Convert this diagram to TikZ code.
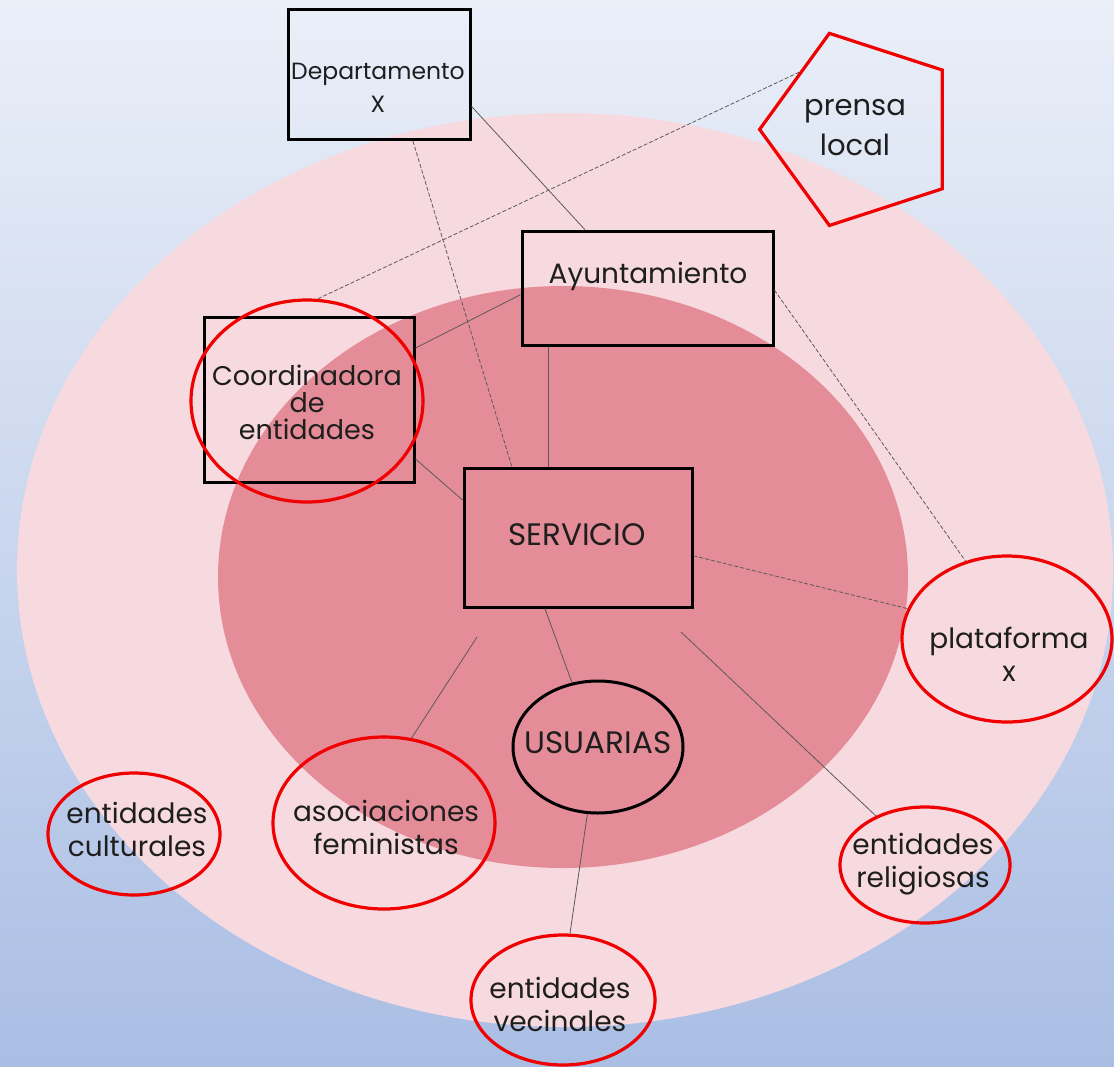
\documentclass[tikz,border=0pt]{standalone}
\usepackage{fontspec}
\setmainfont{Poppins}
\usetikzlibrary{shapes.geometric}
\definecolor{bgtop}{RGB}{234,239,248}
\definecolor{bgbot}{RGB}{170,190,228}
\definecolor{pinkout}{RGB}{247,218,223}
\definecolor{pinkin}{RGB}{228,140,152}
\definecolor{redline}{RGB}{240,0,0}
\definecolor{conn}{RGB}{90,90,90}
\definecolor{txt}{RGB}{30,30,30}
\begin{document}
\begin{tikzpicture}[x=1pt,y=-1pt,
 box/.style={draw=black,line width=3pt,rectangle,inner sep=0pt},
 redell/.style={draw=redline,line width=3.2pt,ellipse,inner sep=0pt},
 blkell/.style={draw=black,line width=3pt,ellipse,inner sep=0pt},
 lbl/.style={text=txt,align=center,inner sep=0pt,font=\fontsize{28}{33}\selectfont},
 link/.style={draw=conn,line width=0.8pt},
 dlink/.style={link,dash pattern=on 4pt off 2pt}]
\useasboundingbox (0,0) rectangle (1114,1066);
\shade[top color=bgtop,bottom color=bgbot] (0,0) rectangle (1114,1066);
\fill[pinkout] (565,570) ellipse [x radius=548, y radius=457];
\fill[pinkin] (563,577) ellipse [x radius=345, y radius=291];
% shapes
\node[box,minimum width=182pt,minimum height=130pt] (dep) at (379,74.5) {};
\node[draw=redline,line width=3.2pt,regular polygon,regular polygon sides=5,minimum size=202pt,inner sep=0pt,shape border rotate=90] (pren) at (860.6,129.4) {};
\node[box,minimum width=251pt,minimum height=114pt] (ayu) at (647.5,288) {};
\node[box,minimum width=210pt,minimum height=165pt] (coordB) at (309,400) {};
\node[redell,minimum width=232pt,minimum height=202pt] (coordE) at (307,401) {};
\node[box,minimum width=228pt,minimum height=139pt] (ser) at (578,537.5) {};
\node[redell,minimum width=210pt,minimum height=166pt] (plat) at (1007,639) {};
\node[blkell,minimum width=170pt,minimum height=132pt] (usu) at (598,747) {};
\node[redell,minimum width=222pt,minimum height=172pt] (aso) at (384,823) {};
\node[redell,minimum width=172pt,minimum height=122pt] (cul) at (134,834) {};
\node[redell,minimum width=170pt,minimum height=116pt] (rel) at (925,865) {};
\node[redell,minimum width=184pt,minimum height=130pt] (vec) at (563,1000) {};
% texts
\node[lbl,font=\fontsize{23.5}{33}\selectfont] (depT) at (378,88) {Departamento\\X};
\node[lbl,font=\fontsize{29}{40}\selectfont] (prenT) at (855,128) {prensa\\local};
\node[lbl] (ayuT) at (648,276) {Ayuntamiento};
\node[lbl,font=\fontsize{27}{27}\selectfont] (coordT) at (307,402) {Coordinadora\\de\\entidades};
\node[lbl,font=\fontsize{31}{33}\selectfont] (serT) at (577,535) {SERVICIO};
\node[lbl] (platT) at (1009,654) {plataforma\\x};
\node[lbl,font=\fontsize{31}{33}\selectfont] (usuT) at (598,743) {USUARIAS};
\node[lbl] (asoT) at (386,827) {asociaciones\\feministas};
\node[lbl] (culT) at (137,829) {entidades\\culturales};
\node[lbl] (relT) at (923,864) {entidades\\religiosas};
\node[lbl] (vecT) at (560,1004) {entidades\\vecinales};
% connectors
\draw[dlink] (pren.137) -- (coordE.84);
\draw[link] (dep.-19) -- (ayu.137.6);
\draw[dlink] (dep.-63) -- (ser.133.5);
\draw[link] (ayu.183.6) -- (coordB.26.3);
\draw[link] ([xshift=-99.5pt]ayu.south) -- ([xshift=-30pt]ser.north);
\draw[link] (coordB.-29.5) -- (ser.162.7);
\draw[dlink] (ser.-9) -- (plat.163);
\draw[dlink] (ayu.-1.8) -- (plat.118);
\draw[link] (ser.245) -- (usu.112);
\coordinate (asoS) at (477,637);
\draw[link] (asoS) -- (aso.72);
\coordinate (relS) at (681,632);
\draw[link] (relS) -- (rel.135.6);
\draw[link] (usu.261) -- (vec.84);
\end{tikzpicture}
\end{document}
